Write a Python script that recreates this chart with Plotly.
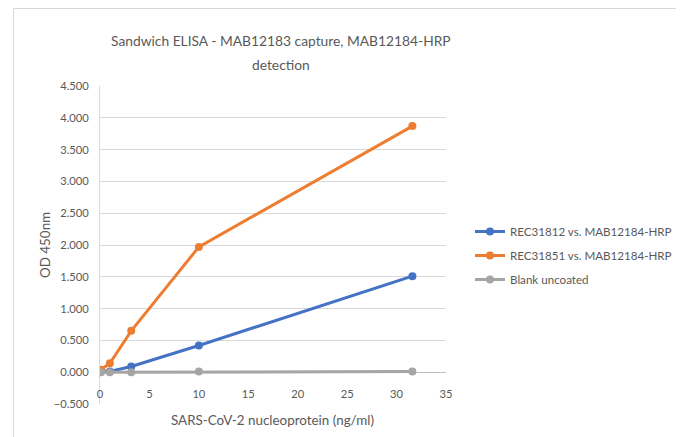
import plotly.graph_objects as go

# ---- data ----
conc = [0.1, 1, 3.16, 10, 31.6]
rec31812 = [0.02, 0.01, 0.09, 0.42, 1.51]
rec31851 = [0.04, 0.14, 0.65, 1.97, 3.87]
blank = [0.0, 0.0, 0.0, 0.01, 0.01]
series_names = ["REC31812 vs. MAB12184-HRP", "REC31851 vs. MAB12184-HRP", "Blank uncoated"]
series_colors = ["#4472C4", "#ED7D31", "#A5A5A5"]
title_lines = ["Sandwich ELISA - MAB12183 capture, MAB12184-HRP", "detection"]
x_title = "SARS-CoV-2 nucleoprotein (ng/ml)"
y_title = "OD 450nm"

FONT = "Lato, Open Sans, sans-serif"
TXT = "#595959"

# page is offset by the default 8px body margin
OFF = 8
W, H = 684, 437
PX0, PX1 = 100, 446      # plot area in page pixels (x)
PY0, PY1 = 86, 404       # plot area in page pixels (y, top/bottom)
L = PX0 - OFF
T = PY0 - OFF
pw, ph = PX1 - PX0, PY1 - PY0
R = W - L - pw
B = H - T - ph

def px(xp):
    return (xp - PX0) / pw

def py(yp):
    return (PY1 - yp) / ph

fig = go.Figure()
for i, (name, ys, col) in enumerate(zip(series_names, [rec31812, rec31851, blank], series_colors)):
    fig.add_trace(go.Scatter(
        x=conc, y=ys, name=name, mode="lines+markers",
        line=dict(color=col, width=3),
        marker=dict(color=col, size=8),
        legendgroup=f"g{i}",
    ))

fig.update_layout(
    width=W, height=H,
    margin=dict(l=L, r=R, t=T, b=B, autoexpand=False),
    paper_bgcolor="white", plot_bgcolor="white",
    font=dict(family=FONT, color=TXT, size=11),
    showlegend=True,
    legend=dict(
        x=px(470), y=py(217), xanchor="left", yanchor="top",
        font=dict(family=FONT, color=TXT, size=11.6),
        tracegroupgap=5, itemwidth=30, bgcolor="rgba(0,0,0,0)",
    ),
    xaxis=dict(
        range=[0, 35], dtick=5, tick0=0, showgrid=False, zeroline=False,
        showline=False, ticks="", anchor="free", position=py(386),
        tickfont=dict(family=FONT, color=TXT, size=11.2),
        fixedrange=True,
    ),
    yaxis=dict(
        range=[-0.5, 4.5], dtick=0.5, tick0=0, tickformat=".3f",
        showgrid=True, gridcolor="#D9D9D9", gridwidth=1,
        zeroline=True, zerolinecolor="#BFBFBF", zerolinewidth=1,
        showline=True, linecolor="#D9D9D9", linewidth=1, ticks="",
        ticklabelstandoff=8,
        tickfont=dict(family=FONT, color=TXT, size=11.2),
        fixedrange=True,
    ),
    annotations=[
        dict(text=title_lines[0], x=px(281), y=py(41), xref="paper", yref="paper",
             showarrow=False, xanchor="center", yanchor="middle",
             font=dict(family=FONT, color=TXT, size=13.8)),
        dict(text=title_lines[1], x=px(281), y=py(64), xref="paper", yref="paper",
             showarrow=False, xanchor="center", yanchor="middle",
             font=dict(family=FONT, color=TXT, size=13.8)),
        dict(text=x_title, x=px(272), y=py(420), xref="paper", yref="paper",
             showarrow=False, xanchor="center", yanchor="middle",
             font=dict(family=FONT, color=TXT, size=13.4)),
        dict(text=y_title, x=px(45), y=0.5, xref="paper", yref="paper",
             showarrow=False, xanchor="center", yanchor="middle", textangle=-90,
             font=dict(family=FONT, color=TXT, size=13.4)),
    ],
    shapes=[
        dict(type="rect", xref="paper", yref="paper",
             x0=px(13.5), x1=px(681), y0=py(450), y1=py(8.5),
             line=dict(color="#D9D9D9", width=1), layer="below"),
        dict(type="line", xref="paper", yref="paper",
             x0=px(2.5), x1=px(2.5), y0=py(450), y1=py(-5),
             line=dict(color="#D9D9D9", width=1), layer="below"),
    ],
)

fig.write_html("out.html")
